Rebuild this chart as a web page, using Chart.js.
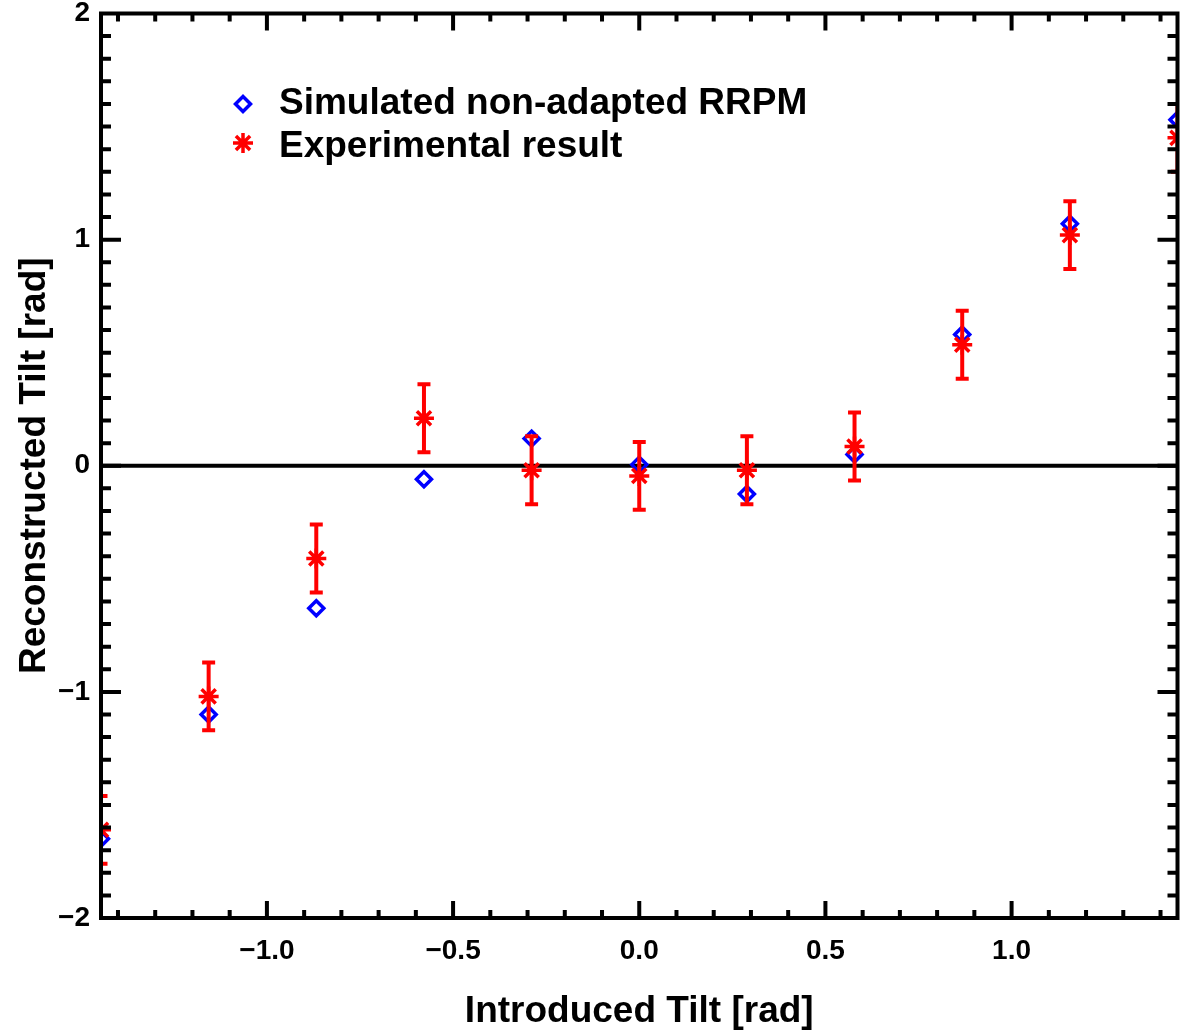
<!DOCTYPE html>
<html>
<head>
<meta charset="utf-8">
<script src="https://cdn.jsdelivr.net/npm/chart.js@4.4.0/dist/chart.umd.min.js"></script>
<style>
  body { margin: 0; background: #fff; }
  #wrap { width: 1191px; height: 1034px; }
</style>
</head>
<body>
<div id="wrap"><canvas id="tiltChart" width="1191" height="1034"></canvas></div>
<script>
// introduced tilt (rad)
const tilt = [-1.4456, -1.1565, -0.8674, -0.5782, -0.2891, 0, 0.2891, 0.5782, 0.8674, 1.1565, 1.4456];
const simulated = [-1.65, -1.10, -0.63, -0.06, 0.12, 0.005, -0.125, 0.05, 0.58, 1.07, 1.53];
const experimental = [-1.61, -1.02, -0.41, 0.21, -0.02, -0.045, -0.02, 0.085, 0.535, 1.02, 1.45];
const expError = [0.15, 0.15, 0.15, 0.15, 0.15, 0.15, 0.15, 0.15, 0.15, 0.15, 0.15];
const xTicks = [-1.0, -0.5, 0.0, 0.5, 1.0];
const yTicks = [-2, -1, 0, 1, 2];
const legendLabels = ['Simulated non-adapted RRPM', 'Experimental result'];

const FONT = '"Liberation Sans", Arial, Helvetica, sans-serif';
const BLUE = '#0000ff';
const RED = '#ff0000';

function fmt(v, digits) {
  return (v < 0 ? '\u2212' : '') + Math.abs(v).toFixed(digits);
}

// zero line, error bars, frame with inward ticks, legend
const decor = {
  id: 'decor',
  beforeDatasetsDraw(chart) {
    const { ctx, chartArea: a, scales: { y } } = chart;
    const y0 = y.getPixelForValue(0);
    ctx.save();
    ctx.strokeStyle = '#000';
    ctx.lineWidth = 4;
    ctx.beginPath();
    ctx.moveTo(a.left, y0);
    ctx.lineTo(a.right, y0);
    ctx.stroke();
    ctx.restore();
  },
  afterDatasetDraw(chart, args) {
    if (args.index !== 0) return; // after the diamonds, under the stars
    const { ctx, chartArea: a, scales: { x, y } } = chart;
    ctx.save();
    ctx.beginPath();
    ctx.rect(a.left, a.top, a.right - a.left, a.bottom - a.top);
    ctx.clip();
    ctx.strokeStyle = RED;
    ctx.lineWidth = 4;
    tilt.forEach((t, i) => {
      const px = x.getPixelForValue(t);
      const top = y.getPixelForValue(experimental[i] + expError[i]);
      const bot = y.getPixelForValue(experimental[i] - expError[i]);
      ctx.beginPath();
      ctx.moveTo(px, top); ctx.lineTo(px, bot);
      ctx.moveTo(px - 6.5, top); ctx.lineTo(px + 6.5, top);
      ctx.moveTo(px - 6.5, bot); ctx.lineTo(px + 6.5, bot);
      ctx.stroke();
    });
    ctx.restore();
  },
  afterDraw(chart) {
    const { ctx, chartArea: a, scales: { x, y } } = chart;
    ctx.save();
    ctx.strokeStyle = '#000';
    ctx.lineWidth = 4;
    ctx.lineCap = 'butt';
    ctx.beginPath();
    // x ticks every 0.1, long at 0.5
    for (let k = -14; k <= 14; k++) {
      const px = x.getPixelForValue(k / 10);
      const len = k % 5 === 0 ? 17 : 8;
      ctx.moveTo(px, a.bottom); ctx.lineTo(px, a.bottom - len);
      ctx.moveTo(px, a.top); ctx.lineTo(px, a.top + len);
    }
    // y ticks every 0.1, long at integers
    for (let k = -19; k <= 19; k++) {
      const py = y.getPixelForValue(k / 10);
      const len = k % 10 === 0 ? 20 : 10;
      ctx.moveTo(a.left, py); ctx.lineTo(a.left + len, py);
      ctx.moveTo(a.right, py); ctx.lineTo(a.right - len, py);
    }
    ctx.stroke();
    ctx.lineWidth = 4;
    ctx.strokeRect(a.left, a.top, a.right - a.left, a.bottom - a.top);

    // legend
    const lx = 243, ly = [104, 143];
    ctx.lineWidth = 3.5;
    ctx.fillStyle = 'rgba(0,0,0,0)';
    ctx.strokeStyle = BLUE;
    Chart.helpers.drawPoint(ctx, { pointStyle: 'rectRot', radius: 7.5, borderWidth: 3.5, rotation: 0 }, lx, ly[0]);
    ctx.strokeStyle = RED;
    Chart.helpers.drawPoint(ctx, { pointStyle: 'star', radius: 10, borderWidth: 3.5, rotation: 0 }, lx, ly[1]);
    ctx.fillStyle = '#000';
    ctx.font = 'bold 37px ' + FONT;
    ctx.textBaseline = 'middle';
    ctx.textAlign = 'left';
    ctx.fillText(legendLabels[0], 279, ly[0]);
    ctx.fillText(legendLabels[1], 279, ly[1] + 4);
    ctx.restore();
  }
};

new Chart(document.getElementById('tiltChart'), {
  type: 'scatter',
  data: {
    datasets: [
      {
        label: legendLabels[0],
        data: tilt.map((t, i) => ({ x: t, y: simulated[i] })),
        pointStyle: 'rectRot',
        pointRadius: 7.5,
        pointBorderWidth: 3.5,
        borderColor: BLUE,
        backgroundColor: 'rgba(0,0,0,0)',
        clip: 0,
        order: 1
      },
      {
        label: legendLabels[1],
        data: tilt.map((t, i) => ({ x: t, y: experimental[i] })),
        pointStyle: 'star',
        pointRadius: 10,
        pointBorderWidth: 3.5,
        borderColor: RED,
        backgroundColor: RED,
        clip: 0,
        order: 0
      }
    ]
  },
  options: {
    responsive: false,
    animation: false,
    events: [],
    layout: { padding: { top: 11, right: 13, left: 0, bottom: 0 } },
    scales: {
      x: {
        type: 'linear',
        min: -1.4456,
        max: 1.4456,
        afterBuildTicks: (scale) => { scale.ticks = xTicks.map(v => ({ value: v })); },
        afterFit: (scale) => { scale.height = 116; scale.paddingLeft = 0; scale.paddingRight = 0; },
        grid: { display: false, drawTicks: false },
        border: { display: false },
        ticks: {
          padding: 16,
          maxRotation: 0,
          color: '#000',
          font: { family: FONT, size: 28, weight: 'bold' },
          callback: (v) => fmt(v, 1)
        },
        title: {
          display: true,
          text: 'Introduced Tilt [rad]',
          color: '#000',
          font: { family: FONT, size: 37, weight: 'bold' },
          padding: { top: 0, bottom: 0 }
        }
      },
      y: {
        type: 'linear',
        min: -2,
        max: 2,
        afterBuildTicks: (scale) => { scale.ticks = yTicks.map(v => ({ value: v })); },
        afterFit: (scale) => { scale.width = 101; scale.paddingTop = 0; scale.paddingBottom = 0; },
        grid: { display: false, drawTicks: false },
        border: { display: false },
        ticks: {
          padding: 11,
          color: '#000',
          font: { family: FONT, size: 28, weight: 'bold' },
          callback: (v) => fmt(v, 0)
        },
        title: {
          display: true,
          text: 'Reconstructed Tilt [rad]',
          color: '#000',
          font: { family: FONT, size: 37, weight: 'bold' },
          padding: { top: 13, bottom: 0 }
        }
      }
    },
    plugins: {
      legend: { display: false },
      tooltip: { enabled: false }
    }
  },
  plugins: [decor]
});
</script>
</body>
</html>
